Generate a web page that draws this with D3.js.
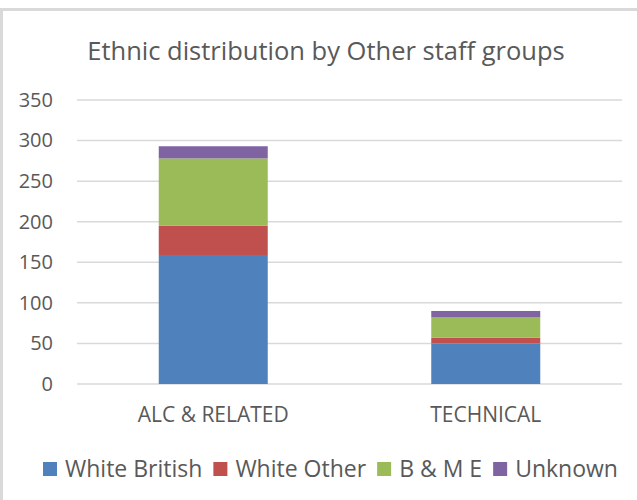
<!DOCTYPE html>
<html>
<head>
<meta charset="utf-8">
<script src="https://cdn.jsdelivr.net/npm/d3@7"></script>
<style>
  body { margin: 0; background: #fff; }
  text { font-family: "Open Sans", Carlito, sans-serif; fill: #595959; }
</style>
</head>
<body>
<div id="chart"></div>
<script>
var title = "Ethnic distribution by Other staff groups";
var categories = ["ALC & RELATED", "TECHNICAL"];
var seriesNames = ["White British", "White Other", "B & M E", "Unknown"];
var whiteBritish = [159, 50];
var whiteOther = [36, 7];
var bme = [83, 25];
var unknown = [15, 8];
var yTicks = [0, 50, 100, 150, 200, 250, 300, 350];

var colors = ["#4f81bd", "#c0504d", "#9bbb59", "#8064a2"];
var width = 637, height = 500;
var margins = {top: 100, right: 15, bottom: 116, left: 77};

var rows = categories.map(function(c, i) {
    return {cat: c, "White British": whiteBritish[i], "White Other": whiteOther[i],
            "B & M E": bme[i], "Unknown": unknown[i]};
});
var stacked = d3.stack().keys(seriesNames)(rows);

var svg = d3.select("#chart").append("svg")
    .attr("width", width)
    .attr("height", height);

// chart border
svg.append("rect")
    .attr("x", 1.5).attr("y", 9.5)
    .attr("width", width + 10).attr("height", height + 10)
    .attr("fill", "#fff")
    .attr("stroke", "#d9d9d9")
    .attr("stroke-width", 3);

var x = d3.scaleBand()
    .domain(categories)
    .range([margins.left, width - margins.right])
    .paddingInner(0.6)
    .paddingOuter(0.3);

var y = d3.scaleLinear()
    .domain([0, 350])
    .range([height - margins.bottom, margins.top]);

// gridlines
svg.append("g")
    .selectAll("line").data(yTicks).enter().append("line")
    .attr("x1", margins.left).attr("x2", width - margins.right)
    .attr("y1", function(d) { return y(d); })
    .attr("y2", function(d) { return y(d); })
    .attr("stroke", "#d9d9d9")
    .attr("stroke-width", 1.5);

var yAxis = d3.axisLeft(y).tickValues(yTicks).tickSize(0).tickPadding(24);
svg.append("g")
    .attr("transform", "translate(" + margins.left + ",0)")
    .call(yAxis)
    .call(function(g) { g.select(".domain").remove(); })
    .selectAll("text")
    .style("font-size", "20px")
    .attr("fill", "#595959");

var xAxis = d3.axisBottom(x).tickSize(0).tickPadding(23);
svg.append("g")
    .attr("transform", "translate(0," + (height - margins.bottom) + ")")
    .call(xAxis)
    .call(function(g) { g.select(".domain").remove(); })
    .selectAll("text")
    .style("font-size", "21px")
    .attr("fill", "#595959");

// bars
svg.append("g")
    .selectAll("g").data(stacked).enter().append("g")
    .attr("fill", function(d, i) { return colors[i]; })
    .selectAll("rect").data(function(d) { return d; }).enter().append("rect")
    .attr("x", function(d) { return x(d.data.cat); })
    .attr("width", x.bandwidth())
    .attr("y", function(d) { return y(d[1]); })
    .attr("height", function(d) { return y(d[0]) - y(d[1]); });

// title
svg.append("text")
    .attr("x", 326).attr("y", 60)
    .attr("text-anchor", "middle")
    .style("font-size", "25.5px")
    .text(title);

// legend
var legend = svg.append("g").attr("transform", "translate(0,469)");
var lx = 43;
seriesNames.forEach(function(name, i) {
    legend.append("rect")
        .attr("x", lx).attr("y", -7)
        .attr("width", 14).attr("height", 14)
        .attr("fill", colors[i]);
    var t = legend.append("text")
        .attr("x", lx + 22).attr("y", 8)
        .style("font-size", "23px")
        .text(name);
    lx += 22 + t.node().getComputedTextLength() + 11;
});
</script>
</body>
</html>
